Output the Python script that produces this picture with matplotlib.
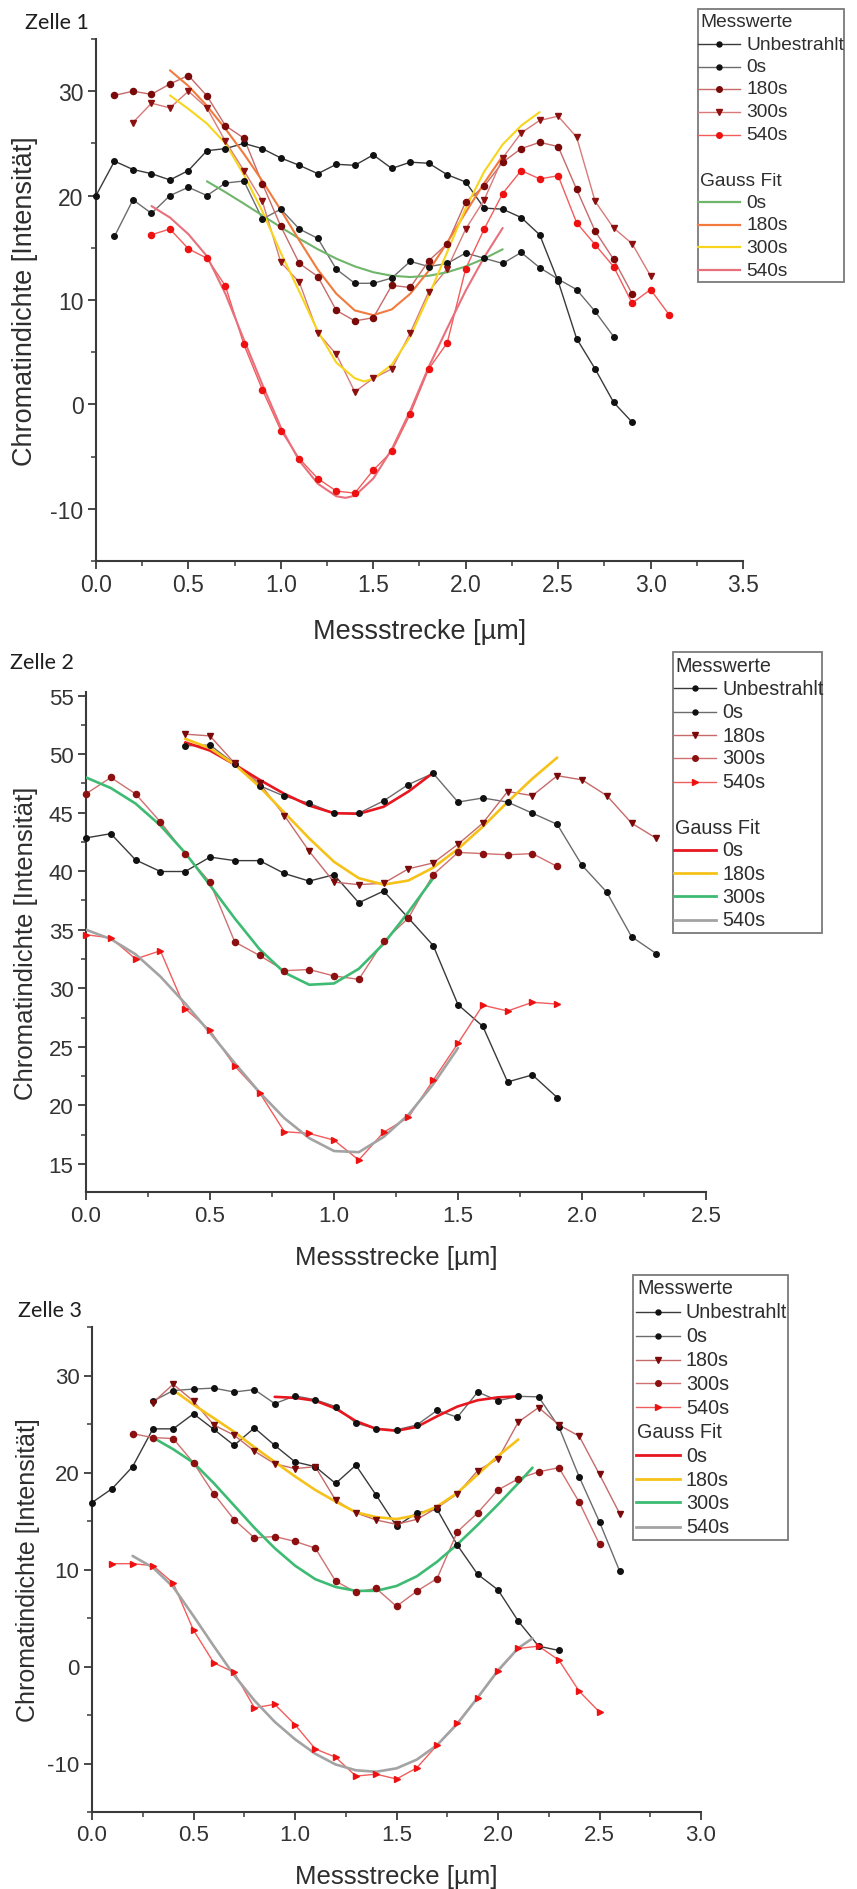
import matplotlib
matplotlib.use("Agg")
import matplotlib.pyplot as plt
from matplotlib.patches import Rectangle
from matplotlib.ticker import MultipleLocator, FormatStrFormatter

plt.rcParams['font.family'] = ['Liberation Sans', 'DejaVu Sans']
plt.rcParams['axes.unicode_minus'] = False

# ======================= DATA =======================
# ---- Zelle 1 : Messwerte ----
z1_unb_x = [0.0, 0.1, 0.2, 0.3, 0.4, 0.5, 0.6, 0.7, 0.8, 0.9, 1.0, 1.1, 1.2, 1.3, 1.4,
            1.5, 1.6, 1.7, 1.8, 1.9, 2.0, 2.1, 2.2, 2.3, 2.4, 2.5, 2.6, 2.7, 2.8, 2.9]
z1_unb_y = [20.0, 23.3, 22.5, 22.1, 21.5, 22.4, 24.3, 24.5, 25.0, 24.5, 23.6, 22.9, 22.1, 23.0, 22.9,
            23.9, 22.6, 23.2, 23.1, 22.0, 21.3, 18.8, 18.7, 17.9, 16.25, 11.8, 6.3, 3.4, 0.2, -1.7]
z1_0s_x = [0.1, 0.2, 0.3, 0.4, 0.5, 0.6, 0.7, 0.8, 0.9, 1.0, 1.1, 1.2, 1.3, 1.4,
           1.5, 1.6, 1.7, 1.8, 1.9, 2.0, 2.1, 2.2, 2.3, 2.4, 2.5, 2.6, 2.7, 2.8]
z1_0s_y = [16.1, 19.6, 18.3, 20.0, 20.8, 20.0, 21.2, 21.4, 17.75, 18.7, 16.8, 15.9, 12.95, 11.6,
           11.6, 12.1, 13.7, 13.2, 13.5, 14.5, 14.0, 13.5, 14.55, 13.1, 12.0, 11.0, 8.9, 6.5]
z1_180_x = [0.1, 0.2, 0.3, 0.4, 0.5, 0.6, 0.7, 0.8, 0.9, 1.0, 1.1, 1.2, 1.3, 1.4,
            1.5, 1.6, 1.7, 1.8, 1.9, 2.0, 2.1, 2.2, 2.3, 2.4, 2.5, 2.6, 2.7, 2.8, 2.9]
z1_180_y = [29.6, 30.0, 29.7, 30.7, 31.5, 29.55, 26.7, 25.5, 21.15, 17.05, 13.5, 12.25, 9.0, 8.0,
            8.3, 11.4, 11.2, 13.75, 15.4, 19.4, 20.9, 23.2, 24.5, 25.1, 24.7, 20.6, 16.6, 13.9, 10.6]
z1_300_x = [0.2, 0.3, 0.4, 0.5, 0.6, 0.7, 0.8, 0.9, 1.0, 1.1, 1.2, 1.3, 1.4,
            1.5, 1.6, 1.7, 1.8, 1.9, 2.0, 2.1, 2.2, 2.3, 2.4, 2.5, 2.6, 2.7, 2.8, 2.9, 3.0]
z1_300_y = [27.0, 28.85, 28.4, 30.0, 28.4, 25.2, 22.4, 19.45, 13.6, 11.7, 6.85, 4.8, 1.2,
            2.5, 3.4, 6.85, 10.8, 13.0, 16.8, 19.6, 23.6, 26.0, 27.2, 27.6, 25.6, 19.45, 16.9, 15.4, 12.3]
z1_540_x = [0.3, 0.4, 0.5, 0.6, 0.7, 0.8, 0.9, 1.0, 1.1, 1.2, 1.3, 1.4,
            1.5, 1.6, 1.7, 1.8, 1.9, 2.0, 2.1, 2.2, 2.3, 2.4, 2.5, 2.6, 2.7, 2.8, 2.9, 3.0, 3.1]
z1_540_y = [16.25, 16.8, 14.9, 14.0, 11.35, 5.74, 1.4, -2.5, -5.2, -7.1, -8.3, -8.5,
            -6.3, -4.5, -0.9, 3.4, 5.9, 13.0, 16.8, 20.2, 22.4, 21.6, 21.9, 17.4, 15.3, 13.2, 9.7, 11.0, 8.6]
# ---- Zelle 1 : Gauss Fit ----
z1_fit0_x = [0.6, 0.7, 0.8, 0.9, 1.0, 1.1, 1.2, 1.3, 1.4, 1.5, 1.6, 1.7, 1.8, 1.9, 2.0, 2.1, 2.2]
z1_fit0_y = [21.37, 20.33, 19.23, 18.1, 16.97, 15.87, 14.86, 13.96, 13.22, 12.66, 12.32, 12.2,
             12.32, 12.66, 13.22, 13.96, 14.86]
z1_fit180_x = [0.4, 0.5, 0.6, 0.7, 0.8, 0.9, 1.0, 1.1, 1.2, 1.3, 1.4, 1.5, 1.6, 1.7, 1.8, 1.9, 2.0, 2.1, 2.2]
z1_fit180_y = [32.0, 30.5, 28.6, 26.4, 24.0, 21.4, 18.6, 15.7, 12.9, 10.6, 9.0, 8.55, 9.1, 10.6,
               12.8, 15.5, 18.4, 21.2, 23.8]
z1_fit300_x = [0.4, 0.5, 0.6, 0.7, 0.8, 0.9, 1.0, 1.1, 1.2, 1.3, 1.4, 1.45, 1.5, 1.6, 1.7, 1.8,
               1.9, 2.0, 2.1, 2.2, 2.3, 2.4]
z1_fit300_y = [29.6, 28.3, 26.9, 25.0, 22.0, 18.5, 14.5, 10.8, 7.0, 4.0, 2.5, 2.2, 2.45, 3.8, 6.5,
               10.4, 14.6, 18.8, 22.3, 24.9, 26.7, 28.0]
z1_fit540_x = [0.3, 0.4, 0.5, 0.6, 0.7, 0.8, 0.9, 1.0, 1.1, 1.2, 1.3, 1.35, 1.4, 1.5, 1.6, 1.7,
               1.8, 1.9, 2.0, 2.1, 2.2]
z1_fit540_y = [19.0, 17.9, 16.3, 14.2, 10.6, 6.2, 1.9, -2.2, -5.4, -7.6, -8.8, -8.95, -8.75, -7.1,
               -4.3, -0.6, 3.6, 7.3, 10.9, 14.1, 16.9]

# ---- Zelle 2 : Messwerte ----
z2_x_a = [0.0, 0.1, 0.2, 0.3, 0.4, 0.5, 0.6, 0.7, 0.8, 0.9, 1.0, 1.1, 1.2, 1.3, 1.4, 1.5, 1.6, 1.7, 1.8, 1.9]
z2_x_b = [0.4, 0.5, 0.6, 0.7, 0.8, 0.9, 1.0, 1.1, 1.2, 1.3, 1.4, 1.5, 1.6, 1.7, 1.8, 1.9, 2.0, 2.1, 2.2, 2.3]
z2_unb_y = [42.84, 43.2, 40.96, 39.97, 39.97, 41.2, 40.9, 40.9, 39.8, 39.15, 39.7, 37.3, 38.3, 36.0,
            33.65, 28.6, 26.75, 22.0, 22.6, 20.67]
z2_0s_y = [50.7, 50.77, 49.15, 47.3, 46.4, 45.8, 44.95, 44.95, 46.0, 47.4, 48.35, 45.9, 46.25, 45.9,
           44.95, 44.0, 40.5, 38.2, 34.4, 32.95]
z2_180_y = [51.7, 51.55, 49.2, 47.5, 44.75, 41.7, 39.06, 38.85, 38.97, 40.2, 40.7, 42.3, 44.1, 46.8,
            46.45, 48.15, 47.8, 46.45, 44.1, 42.8]
z2_300_y = [46.6, 48.0, 46.6, 44.2, 41.5, 39.05, 33.95, 32.8, 31.5, 31.6, 31.05, 30.76, 34.0, 36.0,
            39.7, 41.6, 41.5, 41.4, 41.5, 40.4]
z2_540_y = [34.57, 34.3, 32.5, 33.2, 28.26, 26.4, 23.35, 21.07, 17.75, 17.6, 17.03, 15.33, 17.7, 18.97,
            22.15, 25.3, 28.55, 28.06, 28.8, 28.65]
# ---- Zelle 2 : Gauss Fit ----
z2_fit0_x = [0.4, 0.5, 0.6, 0.7, 0.8, 0.9, 1.0, 1.1, 1.2, 1.3, 1.4]
z2_fit0_y = [51.0, 50.3, 49.1, 47.8, 46.6, 45.6, 44.95, 44.9, 45.5, 46.8, 48.4]
z2_fit180_x = [0.4, 0.5, 0.6, 0.7, 0.8, 0.9, 1.0, 1.1, 1.2, 1.3, 1.4, 1.5, 1.6, 1.7, 1.8, 1.9]
z2_fit180_y = [51.3, 50.5, 49.1, 47.2, 45.0, 42.8, 40.8, 39.4, 38.85, 39.2, 40.3, 41.9, 43.8, 45.9,
               47.9, 49.7]
z2_fit300_x = [0.0, 0.1, 0.2, 0.3, 0.4, 0.5, 0.6, 0.7, 0.8, 0.9, 1.0, 1.1, 1.2, 1.3, 1.4]
z2_fit300_y = [48.0, 47.1, 45.77, 43.9, 41.56, 38.8, 35.96, 33.33, 31.34, 30.3, 30.41, 31.66, 33.8,
               36.5, 39.4]
z2_fit540_x = [0.0, 0.1, 0.2, 0.3, 0.4, 0.5, 0.6, 0.7, 0.8, 0.9, 1.0, 1.1, 1.2, 1.3, 1.4, 1.5]
z2_fit540_y = [35.0, 34.2, 32.9, 31.0, 28.7, 26.2, 23.6, 21.1, 18.9, 17.2, 16.1, 16.0, 17.3, 19.2,
               21.8, 24.9]

# ---- Zelle 3 : Messwerte ----
z3_unb_x = [0.0, 0.1, 0.2, 0.3, 0.4, 0.5, 0.6, 0.7, 0.8, 0.9, 1.0, 1.1, 1.2, 1.3, 1.4, 1.5,
            1.6, 1.7, 1.8, 1.9, 2.0, 2.1, 2.2, 2.3]
z3_unb_y = [16.9, 18.35, 20.6, 24.5, 24.5, 26.05, 24.45, 22.8, 24.6, 22.8, 21.1, 20.6, 18.87, 20.75,
            17.66, 14.46, 15.84, 16.2, 12.5, 9.5, 7.9, 4.67, 2.1, 1.65]
z3_0s_x = [0.3, 0.4, 0.5, 0.6, 0.7, 0.8, 0.9, 1.0, 1.1, 1.2, 1.3, 1.4, 1.5, 1.6, 1.7, 1.8, 1.9,
           2.0, 2.1, 2.2, 2.3, 2.4, 2.5, 2.6]
z3_0s_y = [27.35, 28.45, 28.6, 28.7, 28.3, 28.55, 27.1, 27.9, 27.5, 26.8, 25.1, 24.5, 24.4, 24.9,
           26.4, 25.7, 28.3, 27.4, 27.85, 27.8, 24.7, 19.55, 14.9, 9.8]
z3_180_x = z3_0s_x
z3_180_y = [27.2, 29.1, 27.35, 24.9, 23.85, 22.2, 20.9, 20.4, 20.6, 17.15, 15.84, 15.1, 14.66, 15.17,
            16.36, 17.8, 20.2, 21.4, 25.2, 26.7, 24.9, 23.75, 19.8, 15.74]
z3_300_x = [0.2, 0.3, 0.4, 0.5, 0.6, 0.7, 0.8, 0.9, 1.0, 1.1, 1.2, 1.3, 1.4, 1.5, 1.6, 1.7, 1.8,
            1.9, 2.0, 2.1, 2.2, 2.3, 2.4, 2.5]
z3_300_y = [24.0, 23.6, 23.5, 21.0, 17.8, 15.15, 13.26, 13.4, 12.9, 12.2, 8.8, 7.66, 8.05, 6.2, 7.76,
            9.07, 13.9, 15.84, 18.2, 19.35, 20.07, 20.5, 16.94, 12.6]
z3_540_x = [0.1, 0.2, 0.3, 0.4, 0.5, 0.6, 0.7, 0.8, 0.9, 1.0, 1.1, 1.2, 1.3, 1.4, 1.5, 1.6, 1.7,
            1.8, 1.9, 2.0, 2.1, 2.2, 2.3, 2.4, 2.5]
z3_540_y = [10.6, 10.6, 10.4, 8.6, 3.74, 0.38, -0.6, -4.26, -3.9, -6.0, -8.5, -9.35, -11.3, -11.1,
            -11.6, -10.45, -8.1, -5.8, -3.2, -0.5, 1.86, 2.1, 0.65, -2.55, -4.7]
# ---- Zelle 3 : Gauss Fit ----
z3_fit0_x = [0.9, 1.0, 1.1, 1.2, 1.3, 1.4, 1.5, 1.6, 1.7, 1.8, 1.9, 2.0, 2.1]
z3_fit0_y = [27.8, 27.7, 27.4, 26.6, 25.3, 24.5, 24.3, 24.7, 25.8, 26.8, 27.45, 27.75, 27.85]
z3_fit180_x = [0.4, 0.5, 0.6, 0.7, 0.8, 0.9, 1.0, 1.1, 1.2, 1.3, 1.4, 1.5, 1.6, 1.7, 1.8, 1.9, 2.0, 2.1]
z3_fit180_y = [28.5, 27.0, 25.6, 24.2, 22.6, 21.1, 19.6, 18.2, 17.0, 15.9, 15.4, 15.2, 15.6, 16.5,
               17.9, 19.8, 21.7, 23.4]
z3_fit300_x = [0.3, 0.4, 0.5, 0.6, 0.7, 0.8, 0.9, 1.0, 1.1, 1.2, 1.3, 1.4, 1.5, 1.6, 1.7, 1.8,
               1.9, 2.0, 2.1, 2.17]
z3_fit300_y = [23.6, 22.4, 21.0, 18.9, 16.6, 14.3, 12.2, 10.4, 9.0, 8.2, 7.8, 7.8, 8.3, 9.3, 10.8,
               12.6, 14.6, 16.7, 18.9, 20.5]
z3_fit540_x = [0.2, 0.3, 0.4, 0.5, 0.6, 0.7, 0.8, 0.9, 1.0, 1.1, 1.2, 1.3, 1.4, 1.5, 1.6, 1.7,
               1.8, 1.9, 2.0, 2.1, 2.17]
z3_fit540_y = [11.4, 10.2, 8.2, 5.2, 2.1, -0.9, -3.5, -5.7, -7.5, -9.0, -10.1, -10.7, -10.85, -10.5,
               -9.6, -8.1, -5.9, -3.2, -0.4, 1.9, 2.9]

series_names = ['Unbestrahlt', '0s', '180s', '300s', '540s']
fit_names = ['0s', '180s', '300s', '540s']
titles = ['Zelle 1', 'Zelle 2', 'Zelle 3']
xlabel_text = 'Messstrecke [µm]'
ylabel_text = 'Chromatindichte [Intensität]'

# ======================= STYLES =======================
W, H = 857, 1890
DATA_P1 = {
    'Unbestrahlt': dict(line='#3a3a3a', marker='o', mc='#111111', ms=4.0),
    '0s':          dict(line='#6c6c6c', marker='o', mc='#111111', ms=4.0),
    '180s':        dict(line='#c66a6a', marker='o', mc='#7a0a0a', ms=4.4),
    '300s':        dict(line='#d87a7a', marker='v', mc='#8c1010', ms=4.4),
    '540s':        dict(line='#f25c5c', marker='o', mc='#ee1111', ms=4.4),
}
DATA_P23 = {
    'Unbestrahlt': dict(line='#3a3a3a', marker='o', mc='#111111', ms=4.0),
    '0s':          dict(line='#6c6c6c', marker='o', mc='#111111', ms=4.0),
    '180s':        dict(line='#c66a6a', marker='v', mc='#7a0a0a', ms=4.4),
    '300s':        dict(line='#d07070', marker='o', mc='#8c1010', ms=4.4),
    '540s':        dict(line='#f25c5c', marker='>', mc='#ee1111', ms=4.2),
}
FIT_P1 = {'0s': '#6fb56a', '180s': '#f27a3c', '300s': '#f7d51c', '540s': '#e8707c'}
FIT_P23 = {'0s': '#e8161e', '180s': '#f6c21a', '300s': '#3dbb72', '540s': '#a3a3a3'}

fig = plt.figure(figsize=(W / 100, H / 100), dpi=100)


def axes_px(l, t, r, b):
    return fig.add_axes([l / W, 1 - b / H, (r - l) / W, (b - t) / H])


def style_axes(ax, xlim, ylim, xmaj, ymaj, lsize):
    ax.set_xlim(*xlim)
    ax.set_ylim(*ylim)
    for s in ('top', 'right'):
        ax.spines[s].set_visible(False)
    for s in ('left', 'bottom'):
        ax.spines[s].set_color('#3a3a3a')
        ax.spines[s].set_linewidth(1.5)
    ax.xaxis.set_major_locator(MultipleLocator(xmaj))
    ax.xaxis.set_minor_locator(MultipleLocator(xmaj / 2))
    ax.yaxis.set_major_locator(MultipleLocator(ymaj))
    ax.yaxis.set_minor_locator(MultipleLocator(ymaj / 2))
    ax.xaxis.set_major_formatter(FormatStrFormatter('%.1f'))
    ax.yaxis.set_major_formatter(FormatStrFormatter('%d'))
    ax.tick_params(which='major', direction='out', length=6, width=1.3, color='#3a3a3a',
                   labelsize=lsize, labelcolor='#333333', pad=3)
    ax.tick_params(which='minor', direction='out', length=3.5, width=1.1, color='#3a3a3a')
    ax.patch.set_alpha(0)


def draw_panel(ax, series, fits, dsty, fsty, fit_lw):
    for name, x, y in series:
        ax.plot(x, y, color=dsty[name]['line'], lw=1.0, zorder=2, clip_on=False)
    for name, x, y in fits:
        ax.plot(x, y, color=fsty[name], lw=fit_lw, zorder=3, solid_capstyle='round')
    for name, x, y in series:
        st = dsty[name]
        ax.plot(x, y, ls='none', marker=st['marker'], ms=st['ms'], mfc=st['mc'], mec=st['mc'],
                zorder=4, clip_on=False)


# ---------------- Zelle 1 ----------------
ax1 = axes_px(96, 40, 743, 562)
style_axes(ax1, (0, 3.5), (-15, 35), 0.5, 10, 16.5)
draw_panel(ax1,
           [('Unbestrahlt', z1_unb_x, z1_unb_y), ('0s', z1_0s_x, z1_0s_y),
            ('180s', z1_180_x, z1_180_y), ('300s', z1_300_x, z1_300_y), ('540s', z1_540_x, z1_540_y)],
           [('0s', z1_fit0_x, z1_fit0_y), ('180s', z1_fit180_x, z1_fit180_y),
            ('300s', z1_fit300_x, z1_fit300_y), ('540s', z1_fit540_x, z1_fit540_y)],
           DATA_P1, FIT_P1, 1.5)

# ---------------- Zelle 2 ----------------
ax2 = axes_px(86, 693, 706, 1193)
style_axes(ax2, (0, 2.5), (12.6, 55.3), 0.5, 5, 16)
draw_panel(ax2,
           [('Unbestrahlt', z2_x_a, z2_unb_y), ('0s', z2_x_b, z2_0s_y),
            ('180s', z2_x_b, z2_180_y), ('300s', z2_x_a, z2_300_y), ('540s', z2_x_a, z2_540_y)],
           [('0s', z2_fit0_x, z2_fit0_y), ('180s', z2_fit180_x, z2_fit180_y),
            ('300s', z2_fit300_x, z2_fit300_y), ('540s', z2_fit540_x, z2_fit540_y)],
           DATA_P23, FIT_P23, 1.9)

# ---------------- Zelle 3 ----------------
ax3 = axes_px(92, 1328, 701, 1813)
style_axes(ax3, (0, 3.0), (-15, 35), 0.5, 10, 16)
draw_panel(ax3,
           [('Unbestrahlt', z3_unb_x, z3_unb_y), ('0s', z3_0s_x, z3_0s_y),
            ('180s', z3_180_x, z3_180_y), ('300s', z3_300_x, z3_300_y), ('540s', z3_540_x, z3_540_y)],
           [('0s', z3_fit0_x, z3_fit0_y), ('180s', z3_fit180_x, z3_fit180_y),
            ('300s', z3_fit300_x, z3_fit300_y), ('540s', z3_fit540_x, z3_fit540_y)],
           DATA_P23, FIT_P23, 1.9)

# ---------------- overlay (pixel coordinates) ----------------
ov = fig.add_axes([0, 0, 1, 1], zorder=10)
ov.set_xlim(0, W)
ov.set_ylim(H, 0)
ov.axis('off')
ov.patch.set_alpha(0)

TITLE_FONT = ['Lato', 'DejaVu Sans']
for (tx, ty), t in zip([(25, 23), (10, 663), (18, 1311)], titles):
    ov.text(tx, ty, t, ha='left', va='center', fontsize=15.5, family=TITLE_FONT, color='#1e1e1e')

for (lx, ly, fs) in [(25, 301, 19.5), (26, 943, 18.5), (28, 1570, 18.0)]:
    ov.text(lx, ly, ylabel_text, rotation=90, ha='center', va='center', fontsize=fs, color='#2e2e2e')
for (lx, ly, fs) in [(419.5, 632, 19.5), (396, 1258, 18.5), (396.5, 1877, 18.5)]:
    ov.text(lx, ly, xlabel_text, ha='center', va='center', fontsize=fs, color='#2e2e2e')


def draw_legend(box, hdr_x, h0, h1, tx, rows, fs, dsty, fsty, fit_lw):
    l, t, r, b = box
    ov.add_patch(Rectangle((l, t), r - l, b - t, fill=False, ec='#7a7a7a', lw=1.3))
    hm = (h0 + h1) / 2
    for kind, label, y in rows:
        if kind == 'hdr':
            ov.text(hdr_x, y, label, ha='left', va='center', fontsize=fs, color='#2e2e2e')
            continue
        if kind == 'data':
            st = dsty[label]
            ov.plot([h0, h1], [y, y], color=st['line'], lw=1.0)
            ov.plot([hm], [y], ls='none', marker=st['marker'], ms=st['ms'] - 0.4,
                    mfc=st['mc'], mec=st['mc'])
        else:
            ov.plot([h0, h1], [y, y], color=fsty[label], lw=fit_lw)
        ov.text(tx, y, label, ha='left', va='center', fontsize=fs, color='#2e2e2e')


def legend_rows(ys):
    rows = [('hdr', 'Messwerte', ys[0])]
    rows += [('data', n, y) for n, y in zip(series_names, ys[1:6])]
    rows += [('hdr', 'Gauss Fit', ys[6])]
    rows += [('fit', n, y) for n, y in zip(fit_names, ys[7:11])]
    return rows


draw_legend((698, 10, 844, 283), 700, 698, 740, 746.5,
            legend_rows([22.7, 45, 67.7, 90, 112.7, 135.7, 181, 203.3, 225.7, 248.3, 271]),
            13.8, DATA_P1, FIT_P1, 1.6)
draw_legend((673, 653, 822, 934), 675, 674, 716.5, 722.5,
            legend_rows([666, 689.3, 712.7, 736, 759, 782.7, 828.3, 851, 874.3, 897.3, 921]),
            14.2, DATA_P23, FIT_P23, 2.0)
draw_legend((633, 1276, 788, 1541), 637, 636, 680, 686,
            legend_rows([1288.3, 1312.7, 1336.7, 1360.7, 1384.3, 1408.3, 1432.3, 1456, 1480,
                         1503.3, 1527.7]),
            14.2, DATA_P23, FIT_P23, 2.0)

fig.savefig('out.png', dpi=100)
